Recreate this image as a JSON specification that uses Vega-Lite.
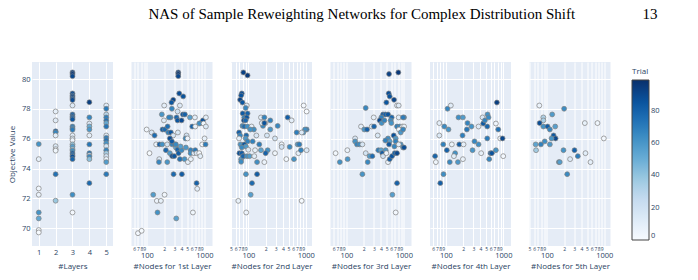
{
  "$schema": "https://vega.github.io/schema/vega-lite/v6.json",
  "padding": {"left": 8, "top": 7, "right": 5, "bottom": 5},
  "bounds": "flush",
  "spacing": 18.5,
  "title": {
    "text": "NAS of Sample Reweighting Networks for Complex Distribution Shift\u00a0\u00a0\u00a0\u00a0\u00a0\u00a0\u00a0\u00a0\u00a0\u00a0\u00a0\u00a0\u00a0\u00a0\u00a0\u00a0\u00a0\u00a013",
    "anchor": "start",
    "frame": "bounds",
    "dx": 140,
    "font": "Liberation Serif",
    "fontSize": 15,
    "fontWeight": "normal",
    "color": "#000000",
    "baseline": "top",
    "offset": 40
  },
  "datasets": {
    "layers": [
      {"layers": 1, "value": 75.64, "trial": 61}, {"layers": 1, "value": 74.63, "trial": 8}, {"layers": 1, "value": 72.66, "trial": 3}, {"layers": 1, "value": 72.24, "trial": 6},
      {"layers": 1, "value": 71.05, "trial": 61}, {"layers": 1, "value": 70.65, "trial": 52}, {"layers": 1, "value": 69.87, "trial": 1}, {"layers": 1, "value": 69.71, "trial": 0},
      {"layers": 2, "value": 77.83, "trial": 9}, {"layers": 2, "value": 77.23, "trial": 12}, {"layers": 2, "value": 76.5, "trial": 82}, {"layers": 2, "value": 76.42, "trial": 66},
      {"layers": 2, "value": 76.22, "trial": 10}, {"layers": 2, "value": 75.5, "trial": 14}, {"layers": 2, "value": 75.3, "trial": 7}, {"layers": 2, "value": 75.2, "trial": 4},
      {"layers": 2, "value": 73.62, "trial": 74}, {"layers": 2, "value": 71.84, "trial": 38},
      {"layers": 3, "value": 80.45, "trial": 92}, {"layers": 3, "value": 80.34, "trial": 95}, {"layers": 3, "value": 80.2, "trial": 90}, {"layers": 3, "value": 79.04, "trial": 88},
      {"layers": 3, "value": 78.9, "trial": 86}, {"layers": 3, "value": 78.8, "trial": 91}, {"layers": 3, "value": 78.7, "trial": 84}, {"layers": 3, "value": 78.6, "trial": 89},
      {"layers": 3, "value": 78.23, "trial": 13}, {"layers": 3, "value": 77.63, "trial": 80}, {"layers": 3, "value": 77.5, "trial": 83}, {"layers": 3, "value": 77.4, "trial": 78},
      {"layers": 3, "value": 77.3, "trial": 85}, {"layers": 3, "value": 76.82, "trial": 68}, {"layers": 3, "value": 76.7, "trial": 64}, {"layers": 3, "value": 76.6, "trial": 70},
      {"layers": 3, "value": 76.22, "trial": 11}, {"layers": 3, "value": 76.02, "trial": 15}, {"layers": 3, "value": 75.9, "trial": 5}, {"layers": 3, "value": 75.62, "trial": 40},
      {"layers": 3, "value": 75.48, "trial": 56}, {"layers": 3, "value": 75.3, "trial": 36}, {"layers": 3, "value": 75.2, "trial": 62}, {"layers": 3, "value": 75.03, "trial": 81},
      {"layers": 3, "value": 74.9, "trial": 76}, {"layers": 3, "value": 74.8, "trial": 87}, {"layers": 3, "value": 74.63, "trial": 79}, {"layers": 3, "value": 72.24, "trial": 63},
      {"layers": 3, "value": 71.05, "trial": 2},
      {"layers": 4, "value": 78.45, "trial": 93}, {"layers": 4, "value": 77.43, "trial": 66}, {"layers": 4, "value": 77.02, "trial": 16}, {"layers": 4, "value": 76.82, "trial": 50},
      {"layers": 4, "value": 76.62, "trial": 59}, {"layers": 4, "value": 76.22, "trial": 9}, {"layers": 4, "value": 75.62, "trial": 72}, {"layers": 4, "value": 75.03, "trial": 72},
      {"layers": 4, "value": 74.9, "trial": 17}, {"layers": 4, "value": 74.8, "trial": 65}, {"layers": 4, "value": 74.63, "trial": 42}, {"layers": 4, "value": 73.02, "trial": 77},
      {"layers": 5, "value": 78.23, "trial": 12}, {"layers": 5, "value": 78.01, "trial": 70}, {"layers": 5, "value": 77.63, "trial": 30}, {"layers": 5, "value": 77.43, "trial": 69},
      {"layers": 5, "value": 77.23, "trial": 74}, {"layers": 5, "value": 77.05, "trial": 52}, {"layers": 5, "value": 76.82, "trial": 73}, {"layers": 5, "value": 76.22, "trial": 14},
      {"layers": 5, "value": 76.06, "trial": 69}, {"layers": 5, "value": 75.9, "trial": 73}, {"layers": 5, "value": 75.7, "trial": 61}, {"layers": 5, "value": 75.5, "trial": 18},
      {"layers": 5, "value": 75.23, "trial": 67}, {"layers": 5, "value": 75.03, "trial": 35}, {"layers": 5, "value": 74.83, "trial": 19}, {"layers": 5, "value": 74.63, "trial": 6},
      {"layers": 5, "value": 74.43, "trial": 57}, {"layers": 5, "value": 73.62, "trial": 71}
    ],
    "layer1": [
      {"n": 351, "value": 80.45, "trial": 92}, {"n": 351, "value": 80.34, "trial": 95}, {"n": 351, "value": 80.2, "trial": 90},
      {"n": 365, "value": 79.04, "trial": 88}, {"n": 428, "value": 78.84, "trial": 86},
      {"n": 287, "value": 78.61, "trial": 91}, {"n": 268, "value": 78.43, "trial": 84}, {"n": 375, "value": 78.23, "trial": 13}, {"n": 200, "value": 78.23, "trial": 9},
      {"n": 272, "value": 78.01, "trial": 66}, {"n": 341, "value": 77.83, "trial": 20},
      {"n": 182, "value": 77.63, "trial": 60}, {"n": 423, "value": 77.63, "trial": 83}, {"n": 458, "value": 77.63, "trial": 80}, {"n": 328, "value": 77.43, "trial": 78},
      {"n": 258, "value": 77.43, "trial": 64}, {"n": 242, "value": 77.43, "trial": 68}, {"n": 198, "value": 77.23, "trial": 12}, {"n": 341, "value": 77.23, "trial": 85},
      {"n": 401, "value": 77.23, "trial": 89},
      {"n": 560, "value": 77.43, "trial": 56}, {"n": 684, "value": 77.43, "trial": 10}, {"n": 858, "value": 77.05, "trial": 82}, {"n": 942, "value": 77.23, "trial": 87},
      {"n": 1061, "value": 77.43, "trial": 11}, {"n": 813, "value": 77.02, "trial": 63}, {"n": 614, "value": 76.82, "trial": 79}, {"n": 693, "value": 76.82, "trial": 7},
      {"n": 968, "value": 77.02, "trial": 4}, {"n": 1061, "value": 76.82, "trial": 14},
      {"n": 99, "value": 76.62, "trial": 3}, {"n": 121, "value": 76.42, "trial": 16}, {"n": 136, "value": 76.22, "trial": 76}, {"n": 187, "value": 76.62, "trial": 81},
      {"n": 205, "value": 76.62, "trial": 77}, {"n": 229, "value": 76.82, "trial": 75}, {"n": 235, "value": 76.42, "trial": 69}, {"n": 261, "value": 76.42, "trial": 84},
      {"n": 346, "value": 76.42, "trial": 15}, {"n": 287, "value": 76.22, "trial": 17},
      {"n": 490, "value": 76.22, "trial": 19}, {"n": 470, "value": 76.02, "trial": 65}, {"n": 509, "value": 76.02, "trial": 5}, {"n": 1007, "value": 76.02, "trial": 8},
      {"n": 916, "value": 75.62, "trial": 2}, {"n": 1047, "value": 75.62, "trial": 70},
      {"n": 145, "value": 75.62, "trial": 6}, {"n": 166, "value": 75.62, "trial": 80}, {"n": 185, "value": 75.62, "trial": 62}, {"n": 226, "value": 75.62, "trial": 18},
      {"n": 276, "value": 75.62, "trial": 67}, {"n": 311, "value": 75.62, "trial": 86}, {"n": 251, "value": 76.02, "trial": 88}, {"n": 272, "value": 75.82, "trial": 83},
      {"n": 111, "value": 75.03, "trial": 1}, {"n": 164, "value": 74.63, "trial": 13}, {"n": 162, "value": 74.43, "trial": 66}, {"n": 226, "value": 74.43, "trial": 60},
      {"n": 214, "value": 75.23, "trial": 78}, {"n": 251, "value": 75.03, "trial": 58}, {"n": 276, "value": 74.83, "trial": 90}, {"n": 299, "value": 74.83, "trial": 85},
      {"n": 319, "value": 75.41, "trial": 54}, {"n": 341, "value": 75.26, "trial": 79}, {"n": 355, "value": 75.03, "trial": 81}, {"n": 375, "value": 74.63, "trial": 74},
      {"n": 401, "value": 75.23, "trial": 64}, {"n": 452, "value": 74.63, "trial": 61}, {"n": 516, "value": 74.43, "trial": 9}, {"n": 477, "value": 75.41, "trial": 59},
      {"n": 575, "value": 75.23, "trial": 68}, {"n": 575, "value": 75.03, "trial": 63}, {"n": 582, "value": 74.63, "trial": 7}, {"n": 656, "value": 75.03, "trial": 12},
      {"n": 693, "value": 75.23, "trial": 72}, {"n": 731, "value": 75.03, "trial": 15}, {"n": 813, "value": 75.03, "trial": 0}, {"n": 847, "value": 74.83, "trial": 11},
      {"n": 385, "value": 75.48, "trial": 56}, {"n": 319, "value": 75.62, "trial": 65},
      {"n": 291, "value": 73.62, "trial": 77}, {"n": 406, "value": 73.62, "trial": 82},
      {"n": 731, "value": 73.02, "trial": 80}, {"n": 750, "value": 72.64, "trial": 10},
      {"n": 129, "value": 72.24, "trial": 57}, {"n": 203, "value": 72.24, "trial": 3}, {"n": 149, "value": 71.83, "trial": 5}, {"n": 175, "value": 71.83, "trial": 8},
      {"n": 153, "value": 71.05, "trial": 62}, {"n": 631, "value": 71.05, "trial": 4},
      {"n": 324, "value": 70.65, "trial": 55},
      {"n": 70, "value": 69.66, "trial": 2}, {"n": 81, "value": 69.82, "trial": 1}
    ],
    "layer2": [
      {"n": 82, "value": 80.45, "trial": 92}, {"n": 97, "value": 80.25, "trial": 95},
      {"n": 77, "value": 79.04, "trial": 88}, {"n": 75, "value": 78.9, "trial": 86}, {"n": 72, "value": 78.61, "trial": 91}, {"n": 79, "value": 78.43, "trial": 84},
      {"n": 94, "value": 78.23, "trial": 13}, {"n": 90, "value": 78.06, "trial": 66},
      {"n": 80, "value": 77.7, "trial": 83}, {"n": 97, "value": 77.7, "trial": 80}, {"n": 85, "value": 77.43, "trial": 68}, {"n": 94, "value": 77.43, "trial": 85},
      {"n": 84, "value": 77.23, "trial": 89}, {"n": 90, "value": 77.23, "trial": 78},
      {"n": 79, "value": 76.86, "trial": 64}, {"n": 85, "value": 76.82, "trial": 76}, {"n": 97, "value": 76.82, "trial": 62}, {"n": 114, "value": 76.82, "trial": 10},
      {"n": 125, "value": 76.62, "trial": 63}, {"n": 108, "value": 76.62, "trial": 61},
      {"n": 69, "value": 76.42, "trial": 81}, {"n": 72, "value": 76.22, "trial": 66}, {"n": 69, "value": 76.02, "trial": 9}, {"n": 92, "value": 76.22, "trial": 77},
      {"n": 90, "value": 76.02, "trial": 59}, {"n": 97, "value": 75.82, "trial": 67},
      {"n": 73, "value": 75.62, "trial": 60}, {"n": 85, "value": 75.62, "trial": 84}, {"n": 91, "value": 75.48, "trial": 58}, {"n": 77, "value": 75.41, "trial": 65},
      {"n": 100, "value": 75.26, "trial": 14}, {"n": 70, "value": 75.03, "trial": 87}, {"n": 77, "value": 75.03, "trial": 82}, {"n": 83, "value": 74.83, "trial": 69},
      {"n": 75, "value": 74.63, "trial": 56}, {"n": 81, "value": 74.83, "trial": 79}, {"n": 75, "value": 74.45, "trial": 64},
      {"n": 95, "value": 74.83, "trial": 61}, {"n": 105, "value": 74.83, "trial": 57}, {"n": 127, "value": 74.83, "trial": 11}, {"n": 119, "value": 75.82, "trial": 68},
      {"n": 131, "value": 75.23, "trial": 8}, {"n": 138, "value": 76.22, "trial": 16}, {"n": 155, "value": 75.62, "trial": 70}, {"n": 142, "value": 74.43, "trial": 63},
      {"n": 166, "value": 75.23, "trial": 54}, {"n": 190, "value": 74.43, "trial": 6},
      {"n": 166, "value": 77.43, "trial": 12}, {"n": 190, "value": 77.43, "trial": 67}, {"n": 198, "value": 77.05, "trial": 7}, {"n": 180, "value": 76.86, "trial": 65},
      {"n": 171, "value": 77.05, "trial": 15}, {"n": 190, "value": 77.05, "trial": 86}, {"n": 241, "value": 77.23, "trial": 68}, {"n": 211, "value": 76.22, "trial": 17},
      {"n": 241, "value": 76.62, "trial": 60}, {"n": 291, "value": 76.02, "trial": 18}, {"n": 324, "value": 76.86, "trial": 66}, {"n": 217, "value": 75.23, "trial": 62},
      {"n": 200, "value": 75.03, "trial": 80}, {"n": 291, "value": 75.03, "trial": 4},
      {"n": 380, "value": 75.62, "trial": 5}, {"n": 380, "value": 75.45, "trial": 19}, {"n": 483, "value": 77.43, "trial": 81}, {"n": 567, "value": 77.23, "trial": 10},
      {"n": 524, "value": 75.45, "trial": 64}, {"n": 458, "value": 74.63, "trial": 3}, {"n": 622, "value": 74.63, "trial": 61}, {"n": 693, "value": 76.42, "trial": 69},
      {"n": 721, "value": 75.62, "trial": 58}, {"n": 771, "value": 75.62, "trial": 70}, {"n": 741, "value": 75.03, "trial": 9},
      {"n": 917, "value": 78.23, "trial": 2}, {"n": 1033, "value": 77.83, "trial": 0}, {"n": 1033, "value": 76.62, "trial": 71}, {"n": 968, "value": 76.62, "trial": 63},
      {"n": 906, "value": 76.42, "trial": 59}, {"n": 847, "value": 76.42, "trial": 13}, {"n": 824, "value": 75.23, "trial": 67}, {"n": 1033, "value": 75.23, "trial": 14},
      {"n": 91, "value": 73.62, "trial": 61}, {"n": 142, "value": 73.62, "trial": 82}, {"n": 116, "value": 73.02, "trial": 77}, {"n": 110, "value": 72.24, "trial": 56},
      {"n": 67, "value": 71.83, "trial": 7}, {"n": 847, "value": 71.83, "trial": 1}, {"n": 92, "value": 71.05, "trial": 5}
    ],
    "layer3": [
      {"n": 552, "value": 80.34, "trial": 92}, {"n": 801, "value": 80.45, "trial": 95},
      {"n": 545, "value": 79.04, "trial": 88}, {"n": 567, "value": 78.84, "trial": 86}, {"n": 496, "value": 78.43, "trial": 84}, {"n": 675, "value": 78.61, "trial": 91},
      {"n": 760, "value": 78.23, "trial": 13}, {"n": 813, "value": 78.23, "trial": 12},
      {"n": 217, "value": 78.06, "trial": 66}, {"n": 299, "value": 77.43, "trial": 9}, {"n": 434, "value": 77.63, "trial": 83}, {"n": 477, "value": 77.63, "trial": 80},
      {"n": 530, "value": 77.63, "trial": 85}, {"n": 406, "value": 77.43, "trial": 68}, {"n": 614, "value": 77.43, "trial": 78}, {"n": 590, "value": 77.23, "trial": 64},
      {"n": 380, "value": 77.23, "trial": 89}, {"n": 411, "value": 77.05, "trial": 62}, {"n": 458, "value": 77.23, "trial": 67}, {"n": 813, "value": 77.43, "trial": 11},
      {"n": 1007, "value": 77.43, "trial": 63}, {"n": 968, "value": 77.43, "trial": 70}, {"n": 606, "value": 77.05, "trial": 61},
      {"n": 180, "value": 76.82, "trial": 10}, {"n": 205, "value": 76.62, "trial": 60}, {"n": 229, "value": 76.62, "trial": 81}, {"n": 276, "value": 76.82, "trial": 14},
      {"n": 303, "value": 76.82, "trial": 79}, {"n": 760, "value": 76.82, "trial": 69}, {"n": 847, "value": 76.82, "trial": 65}, {"n": 942, "value": 76.82, "trial": 4},
      {"n": 1007, "value": 76.82, "trial": 8}, {"n": 824, "value": 76.62, "trial": 2}, {"n": 881, "value": 76.42, "trial": 59}, {"n": 968, "value": 76.62, "trial": 66},
      {"n": 351, "value": 76.22, "trial": 15}, {"n": 666, "value": 76.22, "trial": 87}, {"n": 721, "value": 76.02, "trial": 58}, {"n": 721, "value": 75.82, "trial": 68},
      {"n": 530, "value": 76.02, "trial": 63}, {"n": 567, "value": 75.82, "trial": 56},
      {"n": 142, "value": 76.02, "trial": 16}, {"n": 142, "value": 75.82, "trial": 61}, {"n": 153, "value": 75.62, "trial": 67}, {"n": 171, "value": 75.62, "trial": 64},
      {"n": 190, "value": 75.62, "trial": 17}, {"n": 65, "value": 75.03, "trial": 3}, {"n": 77, "value": 74.43, "trial": 62}, {"n": 104, "value": 75.23, "trial": 6},
      {"n": 105, "value": 74.63, "trial": 59}, {"n": 217, "value": 75.03, "trial": 18}, {"n": 254, "value": 74.83, "trial": 57}, {"n": 283, "value": 74.83, "trial": 76},
      {"n": 235, "value": 74.43, "trial": 65}, {"n": 360, "value": 75.23, "trial": 70}, {"n": 401, "value": 75.23, "trial": 54}, {"n": 423, "value": 75.03, "trial": 82},
      {"n": 434, "value": 74.83, "trial": 19}, {"n": 483, "value": 75.23, "trial": 60}, {"n": 496, "value": 75.03, "trial": 5}, {"n": 530, "value": 74.43, "trial": 7},
      {"n": 567, "value": 74.63, "trial": 81}, {"n": 622, "value": 74.83, "trial": 85}, {"n": 693, "value": 75.03, "trial": 79}, {"n": 760, "value": 75.03, "trial": 90},
      {"n": 684, "value": 75.48, "trial": 66}, {"n": 881, "value": 75.62, "trial": 63}, {"n": 968, "value": 75.41, "trial": 61}, {"n": 1007, "value": 75.41, "trial": 88},
      {"n": 813, "value": 75.62, "trial": 11}, {"n": 477, "value": 75.88, "trial": 68}, {"n": 552, "value": 75.62, "trial": 84},
      {"n": 190, "value": 73.62, "trial": 61},
      {"n": 760, "value": 73.02, "trial": 80}, {"n": 631, "value": 72.24, "trial": 56}, {"n": 721, "value": 71.05, "trial": 2}
    ],
    "layer4": [
      {"n": 771, "value": 78.43, "trial": 93},
      {"n": 107, "value": 78.01, "trial": 66}, {"n": 122, "value": 78.23, "trial": 12},
      {"n": 77, "value": 77.05, "trial": 10}, {"n": 94, "value": 76.82, "trial": 64}, {"n": 111, "value": 76.62, "trial": 60}, {"n": 77, "value": 76.22, "trial": 14},
      {"n": 90, "value": 75.62, "trial": 68}, {"n": 104, "value": 75.23, "trial": 80}, {"n": 127, "value": 75.62, "trial": 7}, {"n": 65, "value": 74.83, "trial": 79},
      {"n": 67, "value": 74.43, "trial": 4},
      {"n": 166, "value": 77.43, "trial": 63}, {"n": 198, "value": 77.43, "trial": 58}, {"n": 238, "value": 77.05, "trial": 67}, {"n": 232, "value": 76.62, "trial": 72},
      {"n": 279, "value": 76.82, "trial": 61}, {"n": 195, "value": 76.22, "trial": 69}, {"n": 171, "value": 75.62, "trial": 82}, {"n": 203, "value": 75.62, "trial": 9},
      {"n": 145, "value": 75.03, "trial": 62}, {"n": 138, "value": 74.83, "trial": 11}, {"n": 117, "value": 74.43, "trial": 65}, {"n": 162, "value": 74.43, "trial": 59},
      {"n": 198, "value": 74.63, "trial": 6},
      {"n": 315, "value": 75.82, "trial": 66}, {"n": 370, "value": 75.62, "trial": 63}, {"n": 291, "value": 75.23, "trial": 60}, {"n": 370, "value": 76.82, "trial": 13},
      {"n": 434, "value": 77.43, "trial": 15}, {"n": 446, "value": 77.02, "trial": 84}, {"n": 477, "value": 77.23, "trial": 67}, {"n": 530, "value": 77.63, "trial": 62},
      {"n": 552, "value": 77.43, "trial": 64}, {"n": 524, "value": 76.82, "trial": 78}, {"n": 524, "value": 76.02, "trial": 70}, {"n": 411, "value": 75.03, "trial": 8},
      {"n": 567, "value": 74.63, "trial": 66}, {"n": 598, "value": 75.03, "trial": 80}, {"n": 631, "value": 75.03, "trial": 86}, {"n": 741, "value": 75.23, "trial": 61},
      {"n": 741, "value": 77.02, "trial": 5}, {"n": 813, "value": 76.62, "trial": 74}, {"n": 881, "value": 76.02, "trial": 3}, {"n": 968, "value": 76.02, "trial": 90},
      {"n": 993, "value": 74.83, "trial": 2},
      {"n": 91, "value": 73.62, "trial": 63}, {"n": 80, "value": 73.02, "trial": 81}
    ],
    "layer5": [
      {"n": 74, "value": 78.23, "trial": 6}, {"n": 200, "value": 78.01, "trial": 64},
      {"n": 87, "value": 77.43, "trial": 32}, {"n": 87, "value": 77.23, "trial": 34}, {"n": 124, "value": 77.63, "trial": 58}, {"n": 75, "value": 77.05, "trial": 88},
      {"n": 87, "value": 76.82, "trial": 62}, {"n": 103, "value": 76.82, "trial": 82}, {"n": 113, "value": 76.62, "trial": 66}, {"n": 140, "value": 76.82, "trial": 56},
      {"n": 131, "value": 76.22, "trial": 84}, {"n": 142, "value": 76.02, "trial": 90}, {"n": 121, "value": 76.02, "trial": 60}, {"n": 92, "value": 75.82, "trial": 63},
      {"n": 79, "value": 75.62, "trial": 68}, {"n": 64, "value": 75.62, "trial": 54}, {"n": 65, "value": 75.23, "trial": 36}, {"n": 113, "value": 75.62, "trial": 59},
      {"n": 458, "value": 77.05, "trial": 8}, {"n": 760, "value": 77.05, "trial": 4}, {"n": 980, "value": 76.02, "trial": 2},
      {"n": 195, "value": 75.23, "trial": 61}, {"n": 303, "value": 75.23, "trial": 80}, {"n": 346, "value": 74.83, "trial": 70}, {"n": 470, "value": 75.03, "trial": 11},
      {"n": 254, "value": 74.63, "trial": 13}, {"n": 575, "value": 74.43, "trial": 9}, {"n": 162, "value": 74.43, "trial": 64}, {"n": 168, "value": 74.43, "trial": 57},
      {"n": 226, "value": 73.62, "trial": 65}
    ]
  },
  "hconcat": [
    {
      "width": 81,
      "height": 184,
      "data": {"name": "layers"},
      "mark": {"type": "circle", "size": 24, "opacity": 1, "stroke": "#808080", "strokeWidth": 0.7},
      "encoding": {
        "x": {
          "field": "layers", "type": "quantitative",
          "scale": {"domain": [0.6, 5.4], "nice": false, "zero": false},
          "axis": {"values": [1, 2, 3, 4, 5], "title": "#Layers", "labelFlush": false, "labelPadding": 2.5, "titlePadding": 6}
        },
        "y": {
          "field": "value", "type": "quantitative",
          "scale": {"domain": [68.8, 81.15], "nice": false, "zero": false},
          "axis": {"values": [70, 72, 74, 76, 78, 80], "title": "Objective Value", "labelPadding": 2, "titlePadding": 5}
        },
        "color": {
          "field": "trial", "type": "quantitative",
          "scale": {"domain": [0, 12.375, 24.75, 37.125, 49.5, 61.875, 74.25, 86.625, 99], "range": ["#f7fbff", "#deebf7", "#c6dbef", "#9ecae1", "#6baed6", "#4292c6", "#2171b5", "#08519c", "#08306b"]},
          "legend": {"title": "Trial", "values": [0, 20, 40, 60, 80]}
        }
      }
    },
    {
      "width": 81,
      "height": 184,
      "data": {"name": "layer1"},
      "mark": {"type": "circle", "size": 24, "opacity": 1, "stroke": "#808080", "strokeWidth": 0.7},
      "encoding": {
        "x": {
          "field": "n", "type": "quantitative",
          "scale": {"type": "log", "domain": [54, 1383], "nice": false},
          "axis": {
            "title": "#Nodes for 1st Layer",
            "values": [50, 60, 70, 80, 90, 100, 200, 300, 400, 500, 600, 700, 800, 900, 1000],
            "labelExpr": "datum.value == 100 || datum.value == 1000 ? '' + datum.value : '' + (datum.value < 100 ? datum.value / 10 : datum.value / 100)",
            "labelFontSize": {"condition": {"test": "datum.value == 100 || datum.value == 1000", "value": 7.5}, "value": 5},
            "labelPadding": {"condition": {"test": "datum.value == 100 || datum.value == 1000", "value": 5}, "value": 0},
            "labelOverlap": false, "labelFlush": false, "labelBound": false, "titlePadding": 4
          }
        },
        "y": {
          "field": "value", "type": "quantitative",
          "scale": {"domain": [68.8, 81.15], "nice": false, "zero": false},
          "axis": {"values": [70, 72, 74, 76, 78, 80], "labels": false, "title": null}
        },
        "color": {
          "field": "trial", "type": "quantitative",
          "scale": {"domain": [0, 12.375, 24.75, 37.125, 49.5, 61.875, 74.25, 86.625, 99], "range": ["#f7fbff", "#deebf7", "#c6dbef", "#9ecae1", "#6baed6", "#4292c6", "#2171b5", "#08519c", "#08306b"]},
          "legend": {"title": "Trial", "values": [0, 20, 40, 60, 80]}
        }
      }
    },
    {
      "width": 81,
      "height": 184,
      "data": {"name": "layer2"},
      "mark": {"type": "circle", "size": 24, "opacity": 1, "stroke": "#808080", "strokeWidth": 0.7},
      "encoding": {
        "x": {
          "field": "n", "type": "quantitative",
          "scale": {"type": "log", "domain": [50, 1280], "nice": false},
          "axis": {
            "title": "#Nodes for 2nd Layer",
            "values": [50, 60, 70, 80, 90, 100, 200, 300, 400, 500, 600, 700, 800, 900, 1000],
            "labelExpr": "datum.value == 100 || datum.value == 1000 ? '' + datum.value : '' + (datum.value < 100 ? datum.value / 10 : datum.value / 100)",
            "labelFontSize": {"condition": {"test": "datum.value == 100 || datum.value == 1000", "value": 7.5}, "value": 5},
            "labelPadding": {"condition": {"test": "datum.value == 100 || datum.value == 1000", "value": 5}, "value": 0},
            "labelOverlap": false, "labelFlush": false, "labelBound": false, "titlePadding": 4
          }
        },
        "y": {
          "field": "value", "type": "quantitative",
          "scale": {"domain": [68.8, 81.15], "nice": false, "zero": false},
          "axis": {"values": [70, 72, 74, 76, 78, 80], "labels": false, "title": null}
        },
        "color": {
          "field": "trial", "type": "quantitative",
          "scale": {"domain": [0, 12.375, 24.75, 37.125, 49.5, 61.875, 74.25, 86.625, 99], "range": ["#f7fbff", "#deebf7", "#c6dbef", "#9ecae1", "#6baed6", "#4292c6", "#2171b5", "#08519c", "#08306b"]},
          "legend": {"title": "Trial", "values": [0, 20, 40, 60, 80]}
        }
      }
    },
    {
      "width": 81,
      "height": 184,
      "data": {"name": "layer3"},
      "mark": {"type": "circle", "size": 24, "opacity": 1, "stroke": "#808080", "strokeWidth": 0.7},
      "encoding": {
        "x": {
          "field": "n", "type": "quantitative",
          "scale": {"type": "log", "domain": [53, 1357], "nice": false},
          "axis": {
            "title": "#Nodes for 3rd Layer",
            "values": [50, 60, 70, 80, 90, 100, 200, 300, 400, 500, 600, 700, 800, 900, 1000],
            "labelExpr": "datum.value == 100 || datum.value == 1000 ? '' + datum.value : '' + (datum.value < 100 ? datum.value / 10 : datum.value / 100)",
            "labelFontSize": {"condition": {"test": "datum.value == 100 || datum.value == 1000", "value": 7.5}, "value": 5},
            "labelPadding": {"condition": {"test": "datum.value == 100 || datum.value == 1000", "value": 5}, "value": 0},
            "labelOverlap": false, "labelFlush": false, "labelBound": false, "titlePadding": 4
          }
        },
        "y": {
          "field": "value", "type": "quantitative",
          "scale": {"domain": [68.8, 81.15], "nice": false, "zero": false},
          "axis": {"values": [70, 72, 74, 76, 78, 80], "labels": false, "title": null}
        },
        "color": {
          "field": "trial", "type": "quantitative",
          "scale": {"domain": [0, 12.375, 24.75, 37.125, 49.5, 61.875, 74.25, 86.625, 99], "range": ["#f7fbff", "#deebf7", "#c6dbef", "#9ecae1", "#6baed6", "#4292c6", "#2171b5", "#08519c", "#08306b"]},
          "legend": {"title": "Trial", "values": [0, 20, 40, 60, 80]}
        }
      }
    },
    {
      "width": 81,
      "height": 184,
      "data": {"name": "layer4"},
      "mark": {"type": "circle", "size": 24, "opacity": 1, "stroke": "#808080", "strokeWidth": 0.7},
      "encoding": {
        "x": {
          "field": "n", "type": "quantitative",
          "scale": {"type": "log", "domain": [53, 1357], "nice": false},
          "axis": {
            "title": "#Nodes for 4th Layer",
            "values": [50, 60, 70, 80, 90, 100, 200, 300, 400, 500, 600, 700, 800, 900, 1000],
            "labelExpr": "datum.value == 100 || datum.value == 1000 ? '' + datum.value : '' + (datum.value < 100 ? datum.value / 10 : datum.value / 100)",
            "labelFontSize": {"condition": {"test": "datum.value == 100 || datum.value == 1000", "value": 7.5}, "value": 5},
            "labelPadding": {"condition": {"test": "datum.value == 100 || datum.value == 1000", "value": 5}, "value": 0},
            "labelOverlap": false, "labelFlush": false, "labelBound": false, "titlePadding": 4
          }
        },
        "y": {
          "field": "value", "type": "quantitative",
          "scale": {"domain": [68.8, 81.15], "nice": false, "zero": false},
          "axis": {"values": [70, 72, 74, 76, 78, 80], "labels": false, "title": null}
        },
        "color": {
          "field": "trial", "type": "quantitative",
          "scale": {"domain": [0, 12.375, 24.75, 37.125, 49.5, 61.875, 74.25, 86.625, 99], "range": ["#f7fbff", "#deebf7", "#c6dbef", "#9ecae1", "#6baed6", "#4292c6", "#2171b5", "#08519c", "#08306b"]},
          "legend": {"title": "Trial", "values": [0, 20, 40, 60, 80]}
        }
      }
    },
    {
      "width": 81,
      "height": 184,
      "data": {"name": "layer5"},
      "mark": {"type": "circle", "size": 24, "opacity": 1, "stroke": "#808080", "strokeWidth": 0.7},
      "encoding": {
        "x": {
          "field": "n", "type": "quantitative",
          "scale": {"type": "log", "domain": [50, 1280], "nice": false},
          "axis": {
            "title": "#Nodes for 5th Layer",
            "values": [50, 60, 70, 80, 90, 100, 200, 300, 400, 500, 600, 700, 800, 900, 1000],
            "labelExpr": "datum.value == 100 || datum.value == 1000 ? '' + datum.value : '' + (datum.value < 100 ? datum.value / 10 : datum.value / 100)",
            "labelFontSize": {"condition": {"test": "datum.value == 100 || datum.value == 1000", "value": 7.5}, "value": 5},
            "labelPadding": {"condition": {"test": "datum.value == 100 || datum.value == 1000", "value": 5}, "value": 0},
            "labelOverlap": false, "labelFlush": false, "labelBound": false, "titlePadding": 4
          }
        },
        "y": {
          "field": "value", "type": "quantitative",
          "scale": {"domain": [68.8, 81.15], "nice": false, "zero": false},
          "axis": {"values": [70, 72, 74, 76, 78, 80], "labels": false, "title": null}
        },
        "color": {
          "field": "trial", "type": "quantitative",
          "scale": {"domain": [0, 12.375, 24.75, 37.125, 49.5, 61.875, 74.25, 86.625, 99], "range": ["#f7fbff", "#deebf7", "#c6dbef", "#9ecae1", "#6baed6", "#4292c6", "#2171b5", "#08519c", "#08306b"]},
          "legend": {"title": "Trial", "values": [0, 20, 40, 60, 80]}
        }
      }
    }
  ],
  "config": {
    "font": "Open Sans",
    "view": {"fill": "#E5ECF6", "stroke": null},
    "axis": {
      "domain": false,
      "ticks": false,
      "grid": true,
      "gridColor": "#ffffff",
      "gridWidth": 1,
      "gridOpacity": 1,
      "labelFont": "Open Sans",
      "labelFontSize": 7.5,
      "labelColor": "#2a3f5f",
      "titleFont": "Open Sans",
      "titleFontSize": 8,
      "titleFontWeight": "normal",
      "titleColor": "#2a3f5f"
    },
    "legend": {
      "orient": "right",
      "offset": 13,
      "padding": 6,
      "gradientLength": 160,
      "gradientThickness": 17,
      "gradientStrokeColor": "#444444",
      "gradientStrokeWidth": 1,
      "labelFont": "Open Sans",
      "labelFontSize": 7.5,
      "labelColor": "#2a3f5f",
      "labelOffset": 3,
      "titleFont": "Open Sans",
      "titleFontSize": 8,
      "titleFontWeight": "normal",
      "titleColor": "#2a3f5f",
      "titlePadding": 4
    }
  }
}
